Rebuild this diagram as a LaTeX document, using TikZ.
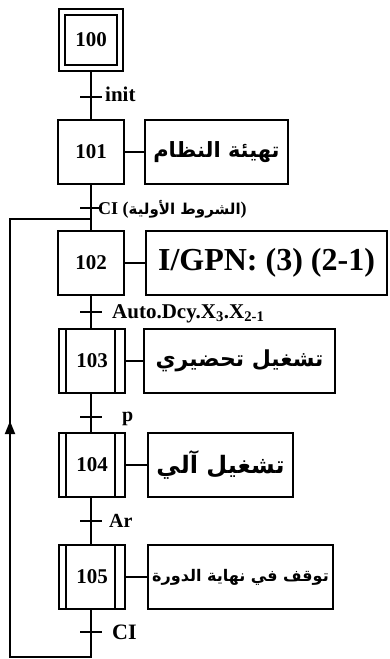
\documentclass[tikz,border=0pt]{standalone}
\usepackage{fontspec}
\setmainfont{Liberation Serif}
\newfontfamily\arabicfont[Script=Arabic]{DejaVu Sans}
\TeXXeTstate=1
\usetikzlibrary{arrows.meta, positioning}

\begin{document}
\begin{tikzpicture}[x=1pt, y=-1pt,
		initstep/.style={draw, line width=1.6pt, double, double distance=4.5pt, outer sep=4pt, minimum width=58pt, minimum height=56pt, inner sep=0pt, font=\bfseries\fontsize{21}{21}\selectfont},
		stepbox/.style={draw, fill=white, line width=1.8pt, minimum width=66pt, minimum height=64pt, inner sep=0pt, font=\bfseries\fontsize{21}{21}\selectfont},
		macrostep/.style={stepbox, path picture={
				\draw[line width=1.6pt] ([xshift=7pt]path picture bounding box.north west) -- ([xshift=7pt]path picture bounding box.south west)
				([xshift=-10pt]path picture bounding box.north east) -- ([xshift=-10pt]path picture bounding box.south east);}},
		action/.style={draw, line width=1.8pt, minimum height=64pt, inner sep=0pt, font=\bfseries},
		trans/.style={fill=black, minimum width=22pt, minimum height=2.6pt, inner sep=0pt, outer sep=0pt},
		tlabel/.style={anchor=base west, inner sep=0pt, font=\bfseries\fontsize{#1}{#1}\selectfont},
		link/.style={line width=1.8pt}
	]
	\useasboundingbox (0,0) rectangle (390,659);

	% --- Steps down the main line (x = 91) ---
	\node[initstep] (s_100) at (91,40) {100};
	\node[stepbox] (s_101) at (91,152) {101};
	\node[stepbox] (s_102) at (91,263) {102};
	\node[macrostep] (s_103) at (92,361) {103};
	\node[macrostep] (s_104) at (92,465) {104};
	\node[macrostep] (s_105) at (92,577) {105};

	% --- Actions ---
	\node[action, minimum width=143pt] (a_101) at (216.5,0 |- s_101) {\arabicfont\fontsize{21}{21}\selectfont\bfseries\beginR تهيئة النظام\endR};
	\node[action, minimum width=241pt] (a_102) at (266.5,0 |- s_102) {\fontsize{32}{32}\selectfont I/GPN: (3) (2-1)};
	\node[action, minimum width=191pt] (a_103) at (239.5,0 |- s_103) {\arabicfont\fontsize{22}{22}\selectfont\bfseries\beginR تشغيل تحضيري\endR};
	\node[action, minimum width=145pt] (a_104) at (220.5,0 |- s_104) {\arabicfont\fontsize{24}{24}\selectfont\bfseries\beginR تشغيل آلي\endR};
	\node[action, minimum width=185pt] (a_105) at (240.5,0 |- s_105) {\arabicfont\fontsize{16}{16}\selectfont\bfseries\beginR توقف في نهاية الدورة\endR};

	% --- Transitions ---
	\node[trans] (t_init) at (91,97) {};
	\node[trans] (t_ci) at (91,208) {};
	\node[trans] (t_auto) at (91,312) {};
	\node[trans] (t_p) at (91,417) {};
	\node[trans] (t_ar) at (91,521) {};
	\node[trans] (t_ci2) at (91,632) {};

	\node[tlabel=18] (l_ci) at (98,214) {CI ({\arabicfont\fontsize{15}{15}\selectfont\bfseries\beginR الشروط الأولية\endR})};
	\node[tlabel=21] (l_init) at (105,101) {init};
	\node[tlabel=21] (l_auto) at (112,318) {Auto.Dcy.X\textsubscript{3}.X\textsubscript{2-1}};
	\node[tlabel=20] (l_p) at (122,421) {p};
	\node[tlabel=20] (l_ar) at (109,527) {Ar};
	\node[tlabel=22] (l_ci2) at (112,639) {CI};

	% --- Loop back ---
	\coordinate (c_join) at (91,219);
	\coordinate (c_left_top) at (10,219);
	\coordinate (c_left_bot) at (10,657);
	\coordinate (c_end) at (91,657);
	\coordinate (c_arrow) at (10,421);

	% --- Connections ---
	\draw[link] (s_100.south) -- (s_101.north);
	\draw[link] (s_101.south) -- (s_102.north);
	\draw[link] (s_102.south) -- (s_102.south |- s_103.north);
	\draw[link] (s_103.south -| s_102.south) -- (s_102.south |- s_104.north);
	\draw[link] (s_104.south -| s_102.south) -- (s_102.south |- s_105.north);
	\draw[link] (s_105.south -| s_102.south) -- (c_end) -- (c_left_bot) -- (c_left_top) -- (c_join);
	\draw[link, -{Triangle[length=13pt, width=10pt]}] (c_left_bot) -- (c_arrow);

	\draw[link] (s_101.east) -- (a_101.west);
	\draw[link] (s_102.east) -- (a_102.west);
	\draw[link] (s_103.east) -- (a_103.west);
	\draw[link] (s_104.east) -- (a_104.west);
	\draw[link] (s_105.east) -- (a_105.west);

\end{tikzpicture}
\end{document}
